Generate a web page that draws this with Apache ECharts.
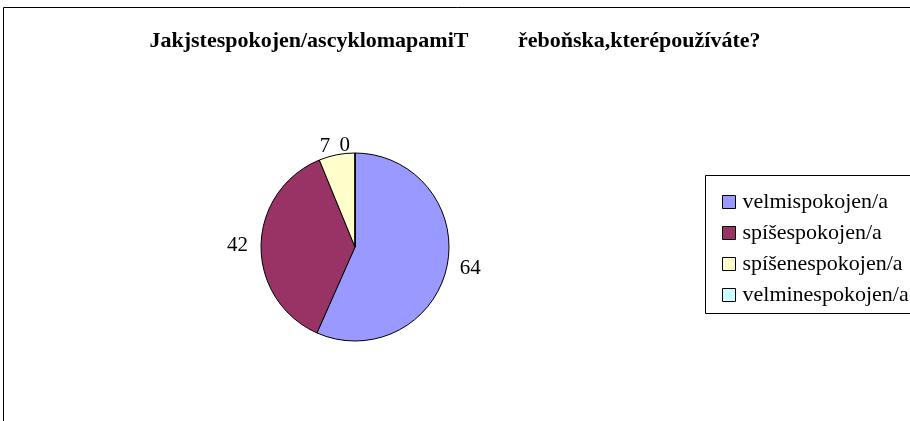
<!DOCTYPE html>
<html>
<head>
<meta charset="utf-8">
<script src="https://cdn.jsdelivr.net/npm/echarts@6/dist/echarts.min.js"></script>
<style>
html, body { margin: 0; padding: 0; background: #fff; }
#chart { width: 910px; height: 421px; }
</style>
</head>
<body>
<div id="chart"></div>
<script>
const titleText = 'Jakjstespokojen/ascyklomapamiT         řeboňska,kterépoužíváte?';
const categories = ['velmispokojen/a', 'spíšespokojen/a', 'spíšenespokojen/a', 'velminespokojen/a'];
const values = [64, 42, 7, 0];
const colors = ['#9999FF', '#993366', '#FFFFCC', '#CCFFFF'];

const font = "'Liberation Serif', 'Times New Roman', serif";

let chart = echarts.init(document.getElementById('chart'));

let option = {
    backgroundColor: '#fff',
    animation: false,
    title: {
        text: titleText,
        left: 'center',
        top: 25,
        textStyle: { fontFamily: font, fontSize: 22, fontWeight: 'bold', color: '#000' }
    },
    graphic: [
        {
            type: 'rect',
            shape: { x: 3.5, y: 7.5, width: 1000, height: 1000 },
            style: { fill: 'none', stroke: '#000', lineWidth: 1 },
            silent: true
        },
        {
            type: 'rect',
            shape: { x: 705.5, y: 175.5, width: 300, height: 138 },
            style: { fill: '#fff', stroke: '#000', lineWidth: 1 },
            silent: true,
            z: 0
        }
    ],
    legend: {
        orient: 'vertical',
        left: 717,
        top: 186,
        icon: 'rect',
        itemWidth: 13,
        itemHeight: 13,
        itemGap: 9,
        data: categories,
        itemStyle: { borderColor: '#000', borderWidth: 1 },
        textStyle: { fontFamily: font, fontSize: 22, color: '#000', lineHeight: 20, padding: [0, 0, 0, 2] },
        z: 5
    },
    series: [{
        type: 'pie',
        center: [355, 247],
        radius: 94,
        startAngle: 90,
        clockwise: true,
        data: categories.map((c, i) => ({ name: c, value: values[i], itemStyle: { color: colors[i] } })),
        itemStyle: { borderColor: '#000', borderWidth: 1 },
        label: {
            show: true,
            position: 'outside',
            formatter: '{c}',
            fontFamily: font,
            fontSize: 21,
            color: '#000'
        },
        labelLine: { show: false, length: 8, length2: 0 },
        avoidLabelOverlap: false
    }]
};

chart.setOption(option);
</script>
</body>
</html>
